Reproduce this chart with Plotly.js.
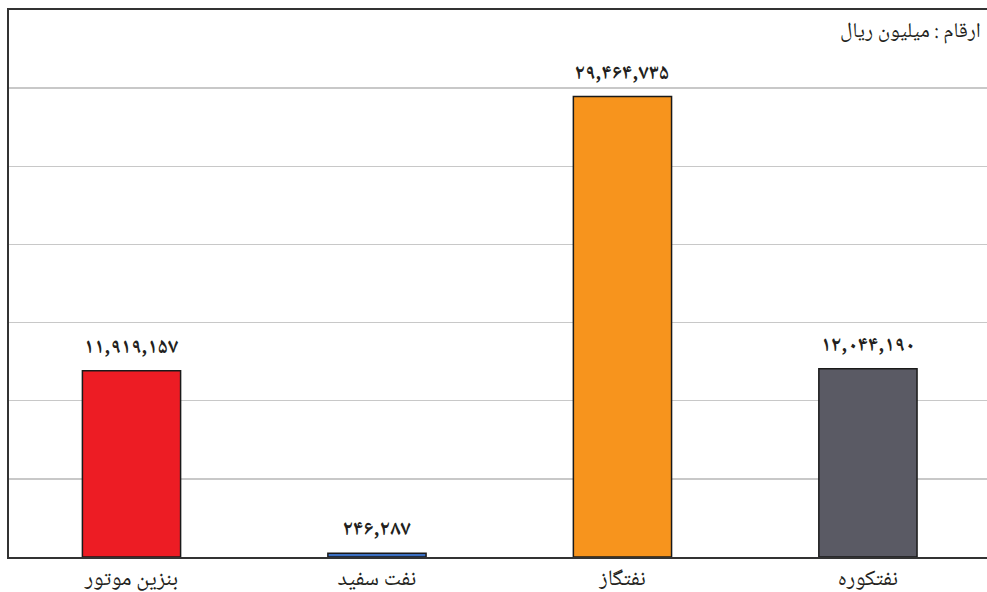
<!DOCTYPE html>
<html>
<head>
<meta charset="utf-8">
<script src="https://cdn.plot.ly/plotly-3.0.1.min.js"></script>
<style>html,body{margin:0;padding:0;background:#fff;}</style>
</head>
<body>
<div id="chart" style="width:987px;height:592px;"></div>
<script>
const categories = ["بنزین موتور", "نفت سفید", "نفتگاز", "نفتکوره"];
const values = [11919157, 246287, 29464735, 12044190];
const barColors = ["#ed1c24", "#3b6fc2", "#f7941d", "#5a5a64"];
const unitNote = "ارقام : میلیون ریال";

function toFa(n) {
  const s = n.toLocaleString("en-US");
  const fa = "۰۱۲۳۴۵۶۷۸۹";
  return s.replace(/[0-9]/g, d => fa[+d]);
}

const FONT = "'Noto Naskh Arabic', 'Noto Sans Arabic', 'DejaVu Sans', sans-serif";
const xs = [0, 1, 2, 3];

const trace = {
  type: "bar",
  x: xs,
  y: values,
  marker: {color: barColors, line: {color: "#1a1a1a", width: 1.5}},
  hoverinfo: "none"
};

const valueLabels = xs.map((x, i) => ({
  x: x, y: values[i], xref: "x", yref: "y",
  text: "<b>" + toFa(values[i]) + "</b>", showarrow: false,
  xanchor: "center", yanchor: "bottom", yshift: 3,
  font: {family: FONT, size: 21, color: "#231f20"}
}));

const layout = {
  width: 987, height: 592,
  margin: {l: 9, r: 0, t: 10, b: 35},
  paper_bgcolor: "#ffffff", plot_bgcolor: "#ffffff",
  bargap: 0.6,
  showlegend: false,
  xaxis: {
    range: [-0.499, 3.485],
    tickmode: "array", tickvals: xs, ticktext: categories,
    showgrid: false, zeroline: false,
    showline: true, linecolor: "#333333", linewidth: 2, mirror: "all",
    ticks: "", ticklabelstandoff: 0,
    tickfont: {family: FONT, size: 22, color: "#231f20"}
  },
  yaxis: {
    range: [0, 35000000], dtick: 5000000,
    showgrid: true, gridcolor: "#c8c8c8", gridwidth: 1.5,
    zeroline: false, showticklabels: false, ticks: "",
    showline: true, linecolor: "#333333", linewidth: 2
  },
  annotations: valueLabels.concat([{
    xref: "paper", yref: "paper", x: 1, y: 1,
    xanchor: "right", yanchor: "middle", xshift: -4, yshift: -22,
    text: unitNote, showarrow: false,
    font: {family: FONT, size: 21, color: "#231f20"}
  }])
};

Plotly.newPlot("chart", [trace], layout, {staticPlot: true, displayModeBar: false});
</script>
</body>
</html>
